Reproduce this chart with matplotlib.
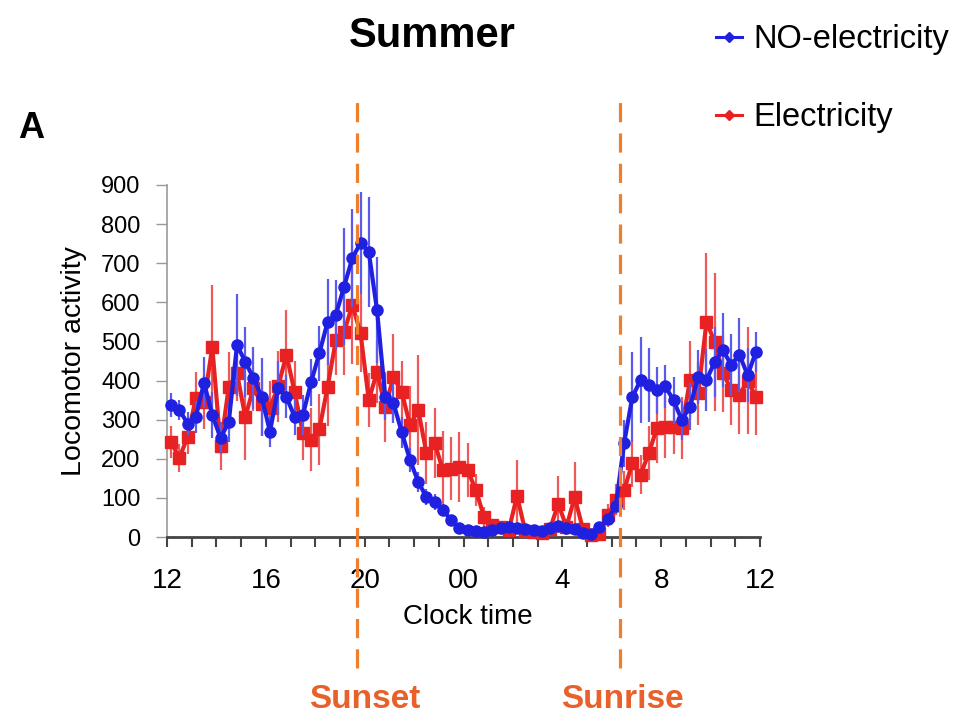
import matplotlib
matplotlib.use("Agg")
import matplotlib.pyplot as plt
from matplotlib.lines import Line2D

plt.rcParams['font.family'] = ['Liberation Sans', 'DejaVu Sans']

# 20-min bins, 12:00 -> 12:00 next day (hour values > 24 are next morning)
times = [12 + (i + 0.5) / 3 for i in range(72)]

no_elec = [337, 325, 290, 307, 394, 312, 253, 294, 491, 448, 406, 358,
           269, 381, 358, 307, 312, 396, 470, 550, 568, 640, 713, 752,
           729, 580, 358, 342, 268, 197, 141, 102, 89, 69, 43, 23,
           18, 15, 14, 18, 22, 25, 24, 20, 18, 16, 22, 28,
           24, 20, 10, 8, 25, 45, 80, 240, 358, 401, 389, 375,
           385, 350, 299, 333, 409, 401, 448, 478, 440, 466, 414, 473]
no_elec_err = [30, 25, 30, 40, 65, 60, 40, 50, 130, 90, 80, 100,
               40, 70, 55, 45, 50, 60, 70, 110, 90, 150, 125, 130,
               140, 135, 60, 50, 40, 30, 25, 20, 20, 15, 12, 8,
               6, 5, 5, 6, 8, 10, 8, 6, 6, 5, 8, 10,
               8, 6, 5, 5, 8, 12, 20, 60, 115, 110, 95, 60,
               55, 60, 50, 60, 70, 80, 90, 95, 80, 95, 70, 50]

elec = [243, 202, 256, 355, 345, 486, 232, 384, 419, 307, 381, 339,
        330, 385, 466, 370, 266, 249, 275, 384, 503, 524, 593, 521,
        350, 422, 333, 409, 371, 286, 325, 215, 240, 171, 175, 179,
        171, 120, 51, 30, 26, 18, 105, 15, 12, 10, 20, 85,
        26, 102, 20, 5, 8, 55, 95, 120, 189, 159, 215, 279,
        281, 281, 279, 401, 367, 550, 499, 420, 376, 363, 400, 358]
elec_err = [40, 35, 45, 67, 70, 158, 60, 90, 70, 110, 60, 80,
            70, 90, 114, 80, 70, 80, 90, 100, 90, 110, 150, 100,
            70, 80, 90, 110, 80, 100, 140, 80, 90, 100, 80, 90,
            70, 40, 25, 15, 15, 10, 92, 10, 8, 8, 15, 70,
            20, 90, 10, 5, 8, 30, 40, 50, 60, 50, 70, 90,
            80, 70, 80, 100, 80, 176, 176, 100, 90, 100, 137, 97]

sunset = 19.7
sunrise = 24 + 6.35
xticks = [12, 16, 20, 24, 28, 32, 36]
xtick_labels = ['12', '16', '20', '00', '4', '8', '12']

blue = '#2020e0'
red = '#e82222'
orange = '#ee7f2d'

fig = plt.figure(figsize=(9.65, 7.19), dpi=100)
ax = fig.add_axes([167 / 965, 1 - 537 / 719, 593 / 965, 352 / 719])

ax.errorbar(times, elec, yerr=elec_err, color=red, marker='s', ms=8,
            lw=3, ecolor='#ee5a5a', elinewidth=1.6, capsize=0,
            clip_on=False, zorder=3)
ax.errorbar(times, no_elec, yerr=no_elec_err, color=blue, marker='o', ms=8,
            lw=3, ecolor='#5a5aee', elinewidth=1.6, capsize=0,
            clip_on=False, zorder=4)

for x in [sunset, sunrise]:
    ax.axvline(x, ymin=-0.372, ymax=1.236, color=orange, lw=2.3,
               dashes=(6, 3.5), clip_on=False, zorder=5)

ax.set_xlim(12, 36)
ax.set_ylim(0, 900)
ax.set_xticks(xticks)
ax.set_xticklabels(xtick_labels)
ax.set_xticks(range(12, 37), minor=True)
ax.set_yticks(range(0, 901, 100))
ax.tick_params(axis='x', which='both', direction='out', length=7, width=1.5,
               color='#444444', labelsize=20, pad=15)
ax.tick_params(axis='y', direction='out', length=8, width=1, color='#999999',
               labelsize=17, pad=11)

for s in ['top', 'right']:
    ax.spines[s].set_visible(False)
ax.spines['left'].set_color('#999999')
ax.spines['left'].set_linewidth(1.2)
ax.spines['bottom'].set_color('#444444')
ax.spines['bottom'].set_linewidth(2)

ax.set_xlabel('Clock time', fontsize=20)
ax.xaxis.set_label_coords(0.508, -0.19)
ax.set_ylabel('Locomotor activity', fontsize=20.5)
ax.yaxis.set_label_coords(-0.135, 0.5)

fig.text(432 / 965, 1 - 36 / 719, 'Summer', fontsize=30, fontweight='bold',
         ha='center', va='center')
fig.text(31 / 965, 1 - 129 / 719, 'A', fontsize=26, fontweight='bold',
         ha='center', va='center')
fig.text(365 / 965, 1 - 700 / 719, 'Sunset', fontsize=24, fontweight='bold',
         color='#e8602a', ha='center', va='center')
fig.text(622 / 965, 1 - 700 / 719, 'Sunrise', fontsize=24, fontweight='bold',
         color='#e8602a', ha='center', va='center')

handles = [Line2D([], [], color=blue, marker='D', ms=5, lw=2.2),
           Line2D([], [], color=red, marker='D', ms=5, lw=2.2)]
fig.legend(handles, ['NO-electricity', 'Electricity'], loc='upper left',
           bbox_to_anchor=(716 / 965, 1 - 24 / 719), frameon=False,
           fontsize=23.5, handlelength=0.8, handletextpad=0.35,
           labelspacing=1.45, borderpad=0, borderaxespad=0)

fig.savefig('out.png', dpi=100)
